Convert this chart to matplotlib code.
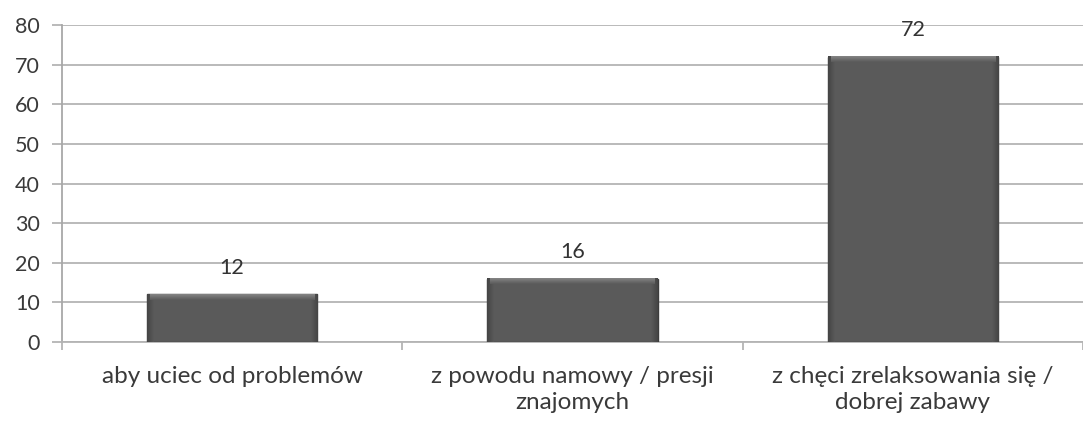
import matplotlib.pyplot as plt
import numpy as np
from matplotlib.colors import LinearSegmentedColormap

categories = ["aby uciec od problemów",
              "z powodu namowy / presji\nznajomych",
              "z chęci zrelaksowania się /\ndobrej zabawy"]
values = [12, 16, 72]
yticks = [0, 10, 20, 30, 40, 50, 60, 70, 80]

plt.rcParams['font.family'] = ['Lato', 'DejaVu Sans']

fig = plt.figure(figsize=(10.83, 4.21), dpi=100)
ax = fig.add_axes([62 / 1083, 1 - 342 / 421, 1 - 62 / 1083, 317 / 421])

x = np.arange(len(values))
width = 0.5
body = "#5a5a5a"
bars = ax.bar(x, values, width=width, color=body, edgecolor="#3c3c3c",
              linewidth=1.0, zorder=3)

# bevel: lighter strip along the top, darker shading at the sides
top_cmap = LinearSegmentedColormap.from_list("top", [body, "#858585"])
side_cmap = LinearSegmentedColormap.from_list("side", ["#444444", body])
bev_y = 1.4
bev_x = 0.018
grad = np.linspace(0, 1, 32)
for b in bars:
    x0, w, h = b.get_x(), b.get_width(), b.get_height()
    ax.imshow(grad.reshape(1, -1), extent=(x0, x0 + bev_x, 0, h), cmap=side_cmap,
              aspect="auto", zorder=4, interpolation="bilinear")
    ax.imshow(grad[::-1].reshape(1, -1), extent=(x0 + w - bev_x, x0 + w, 0, h), cmap=side_cmap,
              aspect="auto", zorder=4, interpolation="bilinear")
    ax.imshow(grad[::-1].reshape(-1, 1), extent=(x0 + bev_x * 0.5, x0 + w - bev_x * 0.5, h - bev_y, h),
              cmap=top_cmap, aspect="auto", zorder=4, interpolation="bilinear")
    ax.annotate(str(int(h)), (x0 + w / 2, h), xytext=(0, 19), textcoords="offset points",
                ha="center", va="center", fontsize=15.5, color="#333333")

ax.set_xlim(-0.5, 2.46)
ax.set_ylim(0, 80)
ax.set_yticks(yticks)
ax.set_xticks(x)
ax.set_xticklabels(categories, fontsize=17.5, color="#3a3a3a", linespacing=1.3)
ax.set_xticks([-0.5, 0.5, 1.5, 2.5], minor=True)

ax.grid(axis="y", color="#b4b4b4", linewidth=1.3, zorder=0)
for s in ["top", "right"]:
    ax.spines[s].set_visible(False)
ax.spines["left"].set_color("#a8a8a8")
ax.spines["left"].set_linewidth(1.3)
ax.spines["bottom"].set_color("#b4b4b4")
ax.spines["bottom"].set_linewidth(1.3)

ax.tick_params(axis="y", length=7, width=1.3, color="#b4b4b4", pad=9,
               labelsize=15.5, labelcolor="#3a3a3a")
ax.tick_params(axis="x", which="major", length=0, pad=17)
ax.tick_params(axis="x", which="minor", length=6, width=1.3, color="#b4b4b4")

plt.savefig("out.png", dpi=100)
